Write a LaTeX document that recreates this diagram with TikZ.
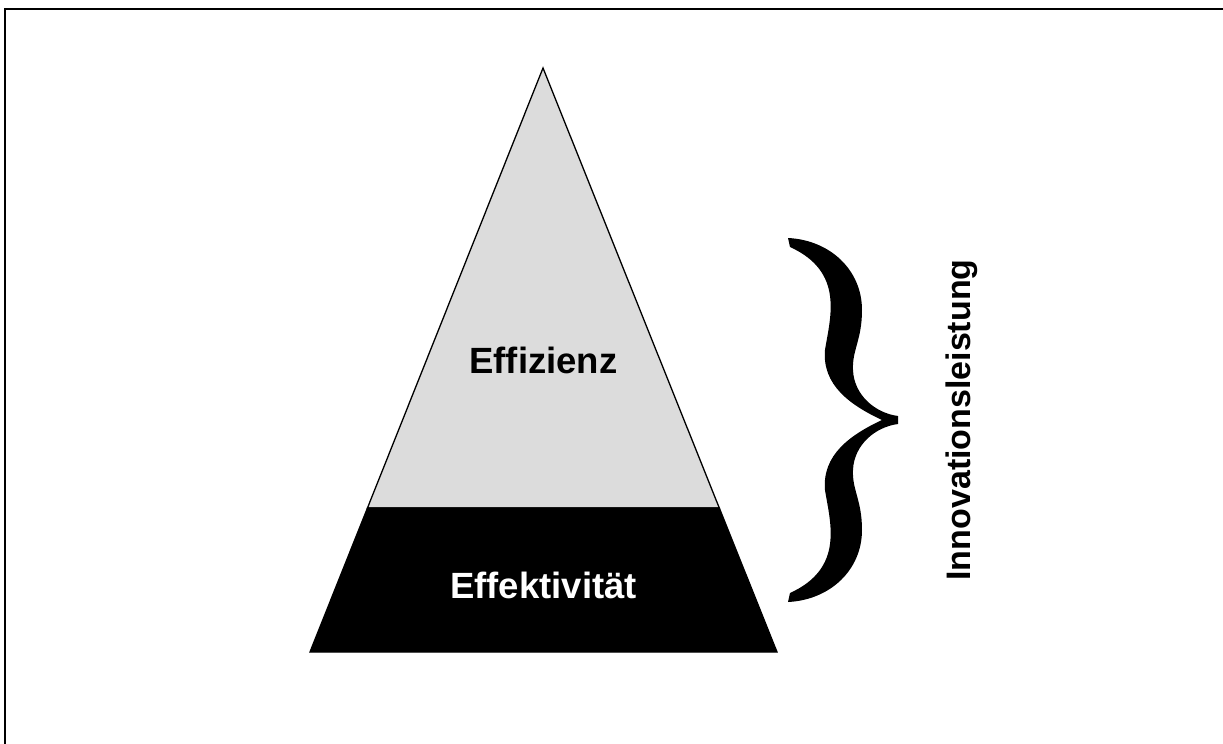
\documentclass[tikz,border=0pt]{standalone}
\usepackage{fontspec}
\setmainfont{Liberation Sans}
\usetikzlibrary{calc}
\definecolor{pyrgray}{RGB}{220,220,220}

\begin{document}
\begin{tikzpicture}[x=0.5pt, y=-0.5pt,
    label/.style={font=\bfseries\fontsize{18.25}{22}\selectfont, inner sep=0pt, anchor=base}]
    \useasboundingbox (0,0) rectangle (1223,744);
    % outer frame, only top and left edge fall inside
    \begin{scope}
        \clip (0,0) rectangle (1223,744);
        \draw[line width=1pt] (5,9) rectangle (1240,760);
    \end{scope}
    % pyramid corners
    \coordinate (apex) at (543,68);
    \coordinate (bl) at (310,652);
    \coordinate (br) at (777,652);
    \coordinate (ml) at ($(apex)!0.7534!(bl)$);
    \coordinate (mr) at ($(apex)!0.7534!(br)$);
    \filldraw[fill=pyrgray, line width=0.65pt] (apex) -- (ml) -- (mr) -- cycle;
    \filldraw[fill=black, line width=0.65pt] (ml) -- (bl) -- (br) -- (mr) -- cycle;
    \node[label] (eff) at (543.5,373) {Effizienz};
    \node[label, text=white] (efk) at (543.5,598) {Effektivität};
    % curly brace
    \fill (788,238) .. controls (830,240) and (862,270) .. (862,310)
        .. controls (862,340) and (852,350) .. (853,370)
        .. controls (854,395) and (875,413) .. (898,416)
        -- (898,424)
        .. controls (875,427) and (854,445) .. (853,470)
        .. controls (852,490) and (862,500) .. (862,530)
        .. controls (862,570) and (830,600) .. (788,602)
        -- (790,593)
        .. controls (845,568) and (830,522) .. (825,490)
        .. controls (822,455) and (850,435) .. (882,420)
        .. controls (850,405) and (822,385) .. (825,350)
        .. controls (830,318) and (845,272) .. (790,247)
        -- cycle;
    \node[label, font=\bfseries\fontsize{17}{20}\selectfont, rotate=90] (inno) at (970,420) {Innovationsleistung};
\end{tikzpicture}
\end{document}
